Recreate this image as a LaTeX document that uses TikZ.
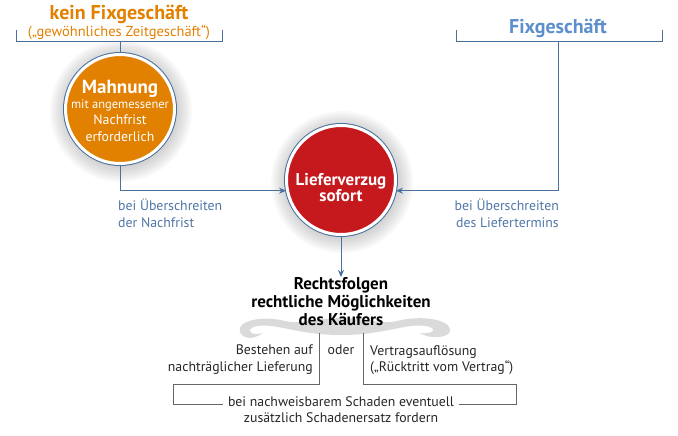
\documentclass[tikz,border=0pt]{standalone}
\usepackage{fontspec}
\setmainfont{PT Sans}
\usetikzlibrary{arrows.meta, positioning, calc, backgrounds}
\definecolor{mahnorange}{RGB}{226,128,0}
\definecolor{verzugred}{RGB}{197,25,30}
\definecolor{fixblue}{RGB}{92,143,203}
\definecolor{linkblue}{RGB}{74,112,158}
\definecolor{textblue}{RGB}{79,118,166}
\definecolor{swirlgray}{RGB}{218,218,218}

\begin{document}
\begin{tikzpicture}[
  x=1pt, y=-1pt,
  every node/.style={font=\fontsize{13.8}{16.5}\selectfont, inner sep=0pt, text=black!85},
  >={Stealth[length=7pt, width=6pt]},
  link/.style={draw=linkblue, line width=0.9pt},
  brk/.style={draw=black!60, line width=0.9pt},
  disc/.style={circle, minimum size=109pt, draw=white, line width=3pt,
    preaction={draw=linkblue, line width=5pt}},
  disctext/.style={text=white, align=center},
  glow/.style={fill=black, opacity=0.022},
  lbl/.style={text=textblue},
  head/.style={font=\bfseries\fontsize{20}{22}\selectfont}
]
\useasboundingbox (0,0) rectangle (678,436);
% headings and brackets
\node[head, text=mahnorange] (kein) at (119,14) {kein Fixgeschäft};
\node[text=mahnorange, font=\fontsize{14.5}{17}\selectfont] (zeit) at (119,32) {(„gewöhnliches Zeitgeschäft“)};
\node[head, text=fixblue] (fix) at (558,28) {Fixgeschäft};
\coordinate (keinstem) at (120,41);
\coordinate (fixstem) at (558,41);
\draw[link] (16,30) |- (222,41) -- (222,30);
\draw[link] (456,30) |- (662,41) -- (662,30);
% the two discs
\node[disc, fill=mahnorange] (mahnung) at (120,109) {};
\node[disctext] (mahntext) at (120,111)
  {{\bfseries\fontsize{19}{21}\selectfont Mahnung}\\[-2pt]
   \fontsize{12.5}{14}\selectfont mit angemessener\\ Nachfrist\\ erforderlich};
\node[disc, fill=verzugred] (verzug) at (341,180) {};
\node[disctext, font=\bfseries\fontsize{17}{16}\selectfont] (verzugtext) at (341,188)
  {Lieferverzug\\ sofort};
% soft glow behind the discs
\begin{scope}[on background layer]
\foreach \r in {57,59,...,71}{
  \fill[glow] ($(mahnung)+(1,2)$) circle (\r);
  \fill[glow] ($(verzug)+(1,2)$) circle (\r);
}
\fill[swirlgray] (240,332) .. controls (236,321) and (262,315) .. (285,321)
  .. controls (300,325) and (315,318) .. (341,318)
  .. controls (367,318) and (382,325) .. (397,321)
  .. controls (420,315) and (448,319) .. (450,329)
  .. controls (452,338) and (430,340) .. (420,333)
  .. controls (432,335) and (440,328) .. (425,326)
  .. controls (405,323) and (385,335) .. (341,335)
  .. controls (297,335) and (277,323) .. (257,326)
  .. controls (243,329) and (252,337) .. (263,333)
  .. controls (252,341) and (242,338) .. (240,332) -- cycle;
\end{scope}
% connectors into the red disc
\draw[link] (keinstem) -- (mahnung);
\draw[link, ->] (mahnung) |- (verzug.191);
\draw[link, ->] (fixstem) |- (verzug.349);
\node[lbl, anchor=north west, align=left] (nachfrist) at (118,199) {bei Überschreiten\\der Nachfrist};
\node[lbl, anchor=north east, align=right] (termin) at (559,199) {bei Überschreiten\\des Liefertermins};
% legal consequences
\node[font=\bfseries\fontsize{17}{18}\selectfont, text=black, align=center, anchor=north] (folgen) at (341,277)
  {Rechtsfolgen\\ rechtliche Möglichkeiten\\ des Käufers};
\draw[link, ->] (verzug.south) -- (folgen.north);
\node[anchor=north east, align=right] (bestehen) at (313,345) {Bestehen auf\\nachträglicher Lieferung};
\node[anchor=north] (oder) at (341,345) {oder};
\node[anchor=north west, align=left] (aufloesung) at (370,345) {Vertragsauflösung\\(„Rücktritt vom Vertrag“)};
\node[align=center, anchor=north] (schaden) at (341,396)
  {bei nachweisbarem Schaden eventuell\\ zusätzlich Schadenersatz fordern};
\coordinate (lt) at (319,333);
\coordinate (rt) at (363,333);
\draw[brk] (lt) |- (173,384) |- ($(schaden.north west)+(-5,8)$);
\draw[brk] (rt) |- (516,384) |- ($(schaden.north east)+(5,8)$);
\end{tikzpicture}
\end{document}
